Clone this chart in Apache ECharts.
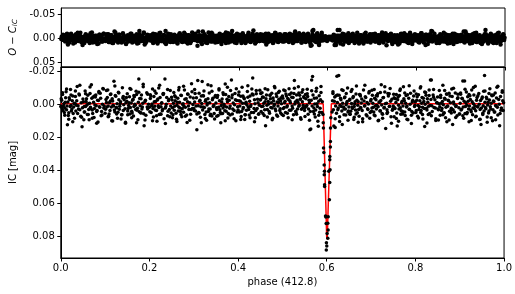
<!DOCTYPE html>
<html>
<head>
<meta charset="utf-8">
<script src="https://cdn.jsdelivr.net/npm/echarts@6/dist/echarts.min.js"></script>
<style>html,body{margin:0;padding:0;background:#fff;}#c{width:515px;height:294px;}</style>
</head>
<body>
<div id="c"></div>
<script>
// ---- observed phases, night set A (out of eclipse) ----
const phase = [
0.001,0.003,0.004,0.006,0.008,0.010,0.012,0.013,0.015,0.017,0.019,0.021,0.022,0.024,0.026,0.028,0.030,0.031,0.033,0.035,0.037,0.040,0.042,0.045,0.048,
0.051,0.053,0.055,0.056,0.058,0.060,0.062,0.064,0.066,0.068,0.069,0.071,0.073,0.075,0.077,0.079,0.081,0.083,0.084,0.086,0.088,0.090,0.093,0.095,0.098,
0.100,0.102,0.104,0.106,0.108,0.110,0.111,0.113,0.115,0.117,0.119,0.120,0.122,0.124,0.126,0.128,0.130,0.132,0.134,0.137,0.139,0.141,0.143,0.146,0.148,
0.150,0.152,0.154,0.156,0.158,0.160,0.162,0.164,0.166,0.168,0.170,0.172,0.174,0.176,0.178,0.180,0.182,0.184,0.186,0.188,0.190,0.192,0.194,0.196,0.198,
0.201,0.203,0.205,0.207,0.209,0.211,0.213,0.215,0.217,0.219,0.221,0.223,0.225,0.227,0.229,0.231,0.233,0.235,0.237,0.239,0.241,0.243,0.245,0.247,0.249,
0.251,0.253,0.255,0.257,0.259,0.261,0.263,0.265,0.267,0.269,0.271,0.273,0.275,0.277,0.279,0.281,0.283,0.285,0.287,0.289,0.291,0.293,0.295,0.297,0.299,
0.301,0.303,0.305,0.307,0.309,0.311,0.313,0.315,0.317,0.319,0.321,0.323,0.325,0.327,0.329,0.331,0.333,0.335,0.337,0.339,0.341,0.343,0.345,0.347,0.349,
0.351,0.353,0.355,0.357,0.359,0.361,0.363,0.365,0.367,0.369,0.371,0.373,0.375,0.377,0.379,0.381,0.383,0.385,0.387,0.389,0.391,0.393,0.395,0.397,0.399,
0.401,0.403,0.405,0.407,0.409,0.411,0.413,0.415,0.417,0.419,0.421,0.423,0.425,0.427,0.429,0.431,0.433,0.435,0.437,0.439,0.441,0.443,0.445,0.447,0.449,
0.451,0.452,0.454,0.456,0.457,0.459,0.461,0.462,0.464,0.466,0.467,0.469,0.471,0.473,0.474,0.476,0.478,0.480,0.481,0.483,0.485,0.487,0.489,0.491,0.493,0.495,0.497,0.499,
0.500,0.502,0.503,0.505,0.507,0.508,0.510,0.512,0.513,0.515,0.517,0.519,0.520,0.522,0.524,0.525,0.527,0.529,0.531,0.532,0.534,0.536,0.538,0.540,0.542,0.544,0.546,0.548,
0.550,0.552,0.554,0.556,0.558,0.560,0.562,0.564,0.566,0.568,0.570,0.572,0.574,0.576,0.578,0.580,0.581,0.583,0.585,0.587,0.589,0.590,
0.612,0.614,0.616,0.617,0.619,0.621,0.623,0.625,0.627,0.629,0.631,0.633,0.635,0.637,0.639,0.641,0.643,0.645,0.647,0.649,
0.651,0.653,0.655,0.657,0.659,0.661,0.663,0.665,0.667,0.669,0.671,0.673,0.675,0.677,0.679,0.681,0.683,0.685,0.687,0.689,0.691,0.693,0.695,0.697,0.699,
0.701,0.703,0.705,0.707,0.709,0.711,0.713,0.715,0.717,0.719,0.721,0.723,0.725,0.727,0.729,0.731,0.733,0.735,0.737,0.739,0.741,0.743,0.745,0.747,0.749,
0.751,0.753,0.755,0.757,0.759,0.761,0.763,0.765,0.767,0.769,0.771,0.773,0.775,0.777,0.779,0.781,0.783,0.785,0.787,0.789,0.791,0.793,0.795,0.797,0.799,
0.801,0.803,0.805,0.807,0.809,0.811,0.813,0.815,0.817,0.819,0.821,0.823,0.825,0.827,0.829,0.831,0.833,0.834,0.836,0.838,0.840,0.842,0.844,0.846,0.848,
0.850,0.852,0.854,0.856,0.858,0.860,0.862,0.864,0.866,0.868,0.870,0.872,0.874,0.876,0.878,0.880,0.882,0.884,0.886,0.888,0.890,0.892,0.894,0.896,0.898,
0.900,0.902,0.904,0.906,0.907,0.909,0.911,0.913,0.915,0.917,0.919,0.921,0.923,0.925,0.927,0.929,0.931,0.933,0.935,0.937,0.939,0.941,0.943,0.945,0.947,0.948,
0.950,0.952,0.954,0.956,0.958,0.960,0.962,0.964,0.966,0.968,0.970,0.972,0.974,0.976,0.978,0.980,0.982,0.984,0.986,0.988,0.990,0.992,0.994,0.996,0.998,0.999
];
const mag = [
-0.0035,0.0021,-0.0062,0.0008,0.0047,-0.0015,-0.0078,0.0031,0.0122,0.0066,-0.0042,0.0011,-0.0091,0.0038,-0.0024,0.0054,-0.0007,0.0082,-0.0049,0.0004,-0.0110,0.0027,-0.0058,0.0071,0.0134,
-0.0018,0.0045,-0.0083,0.0012,-0.0036,0.0059,-0.0005,0.0092,-0.0067,0.0025,-0.0121,0.0033,-0.0046,0.0078,0.0002,-0.0059,0.0041,-0.0027,0.0105,-0.0072,0.0016,-0.0039,0.0063,-0.0098,0.0009,
0.0052,-0.0031,0.0014,-0.0088,0.0071,-0.0013,0.0036,-0.0064,0.0097,-0.0022,0.0008,-0.0142,0.0044,-0.0051,0.0019,0.0083,-0.0075,0.0028,-0.0006,0.0061,-0.0102,0.0035,-0.0029,0.0112,-0.0044,
-0.0066,0.0023,-0.0011,0.0057,-0.0093,0.0040,-0.0026,0.0069,-0.0048,0.0003,-0.0081,0.0034,0.0091,-0.0156,-0.0037,0.0049,-0.0058,0.0015,-0.0109,0.0128,-0.0019,0.0064,-0.0072,0.0026,-0.0003,
0.0043,-0.0052,0.0007,-0.0095,0.0075,-0.0017,0.0032,-0.0069,0.0101,-0.0034,0.0018,-0.0118,0.0056,-0.0009,0.0037,-0.0061,0.0086,-0.0156,0.0012,-0.0044,0.0067,-0.0023,0.0029,-0.0086,0.0050,
-0.0028,0.0062,-0.0074,0.0010,-0.0047,0.0089,-0.0015,0.0039,-0.0104,0.0021,-0.0057,0.0073,-0.0001,0.0046,-0.0089,0.0016,-0.0035,0.0108,-0.0063,0.0030,-0.0012,0.0058,-0.0127,0.0024,-0.0040,
0.0035,-0.0068,0.0009,0.0152,-0.0146,0.0048,-0.0021,0.0077,-0.0053,-0.0140,0.0014,-0.0083,0.0060,-0.0030,0.0095,-0.0008,0.0042,-0.0071,0.0026,-0.0115,0.0069,-0.0038,0.0004,0.0087,-0.0055,
0.0019,-0.0044,0.0066,-0.0097,0.0031,0.0110,-0.0016,0.0053,-0.0062,0.0008,-0.0125,0.0040,-0.0033,0.0081,-0.0049,0.0022,-0.0085,-0.0150,0.0057,-0.0010,0.0036,-0.0068,0.0098,-0.0025,0.0013,
-0.0059,0.0045,-0.0020,0.0072,-0.0106,0.0027,-0.0041,0.0090,-0.0007,0.0034,-0.0079,0.0015,0.0063,-0.0052,0.0002,-0.0094,-0.0162,0.0048,-0.0030,0.0079,-0.0066,0.0023,-0.0012,0.0055,-0.0087,
-0.0031,0.0041,-0.0072,0.0010,-0.0045,0.0066,-0.0018,0.0128,-0.0058,0.0029,-0.0090,-0.0004,0.0052,-0.0036,0.0018,-0.0069,0.0083,-0.0024,0.0006,-0.0103,0.0037,-0.0050,0.0071,-0.0013,-0.0081,0.0025,-0.0041,0.0060,
-0.0052,0.0023,-0.0088,-0.0011,0.0047,-0.0064,0.0015,-0.0037,0.0079,-0.0097,-0.0022,0.0034,-0.0070,0.0008,-0.0043,0.0061,-0.0146,-0.0016,0.0050,-0.0058,0.0027,-0.0109,0.0002,-0.0033,0.0088,-0.0075,0.0019,-0.0048,
0.0036,-0.0062,0.0011,-0.0093,0.0058,-0.0027,0.0152,0.0148,-0.0150,-0.0170,0.0042,-0.0039,0.0075,-0.0081,-0.0006,0.0101,0.0131,-0.0054,0.0022,-0.0110,0.0047,-0.0018,
0.0045,-0.0068,0.0130,-0.0021,0.0138,-0.0054,-0.0172,0.0031,-0.0176,0.0074,-0.0039,0.0012,0.0120,-0.0085,0.0026,-0.0047,0.0063,-0.0010,-0.0101,0.0039,
-0.0026,0.0058,-0.0079,0.0014,-0.0042,0.0090,-0.0005,0.0033,-0.0113,0.0049,-0.0017,0.0070,-0.0061,0.0021,-0.0034,0.0104,-0.0089,0.0009,-0.0048,0.0062,-0.0013,0.0029,-0.0071,0.0082,-0.0022,
0.0040,-0.0057,0.0016,-0.0092,0.0068,-0.0029,0.0004,-0.0066,0.0095,-0.0015,0.0037,-0.0120,0.0054,-0.0041,0.0020,-0.0077,0.0144,-0.0008,0.0046,-0.0053,0.0011,-0.0098,0.0074,-0.0032,0.0025,
-0.0063,0.0019,-0.0035,0.0084,0.0130,-0.0047,0.0027,-0.0086,0.0058,-0.0011,0.0041,-0.0108,-0.0024,0.0066,-0.0055,0.0008,0.0092,-0.0038,0.0030,-0.0069,0.0115,-0.0016,0.0050,-0.0082,0.0003,
0.0048,-0.0027,0.0071,-0.0060,0.0013,-0.0101,0.0036,-0.0044,0.0087,-0.0019,0.0133,-0.0073,0.0022,-0.0036,0.0059,-0.0089,0.0005,-0.0150,-0.0150,0.0042,-0.0058,0.0017,-0.0030,0.0096,-0.0011,
-0.0046,0.0031,-0.0085,0.0064,-0.0009,0.0024,-0.0117,0.0052,-0.0038,0.0079,-0.0065,0.0010,-0.0027,0.0093,-0.0052,0.0035,-0.0094,0.0120,-0.0016,0.0045,-0.0071,0.0007,0.0068,-0.0041,0.0019,
0.0056,-0.0063,0.0028,-0.0035,-0.0143,0.0082,-0.0143,0.0012,-0.0076,0.0047,-0.0020,0.0104,-0.0054,0.0033,-0.0088,0.0061,-0.0006,0.0023,-0.0112,0.0071,-0.0043,0.0015,-0.0068,0.0090,-0.0025,0.0120,
-0.0037,0.0052,-0.0081,-0.0176,0.0018,-0.0045,0.0075,-0.0014,0.0039,-0.0096,0.0027,-0.0058,0.0098,-0.0022,0.0044,-0.0070,0.0009,-0.0105,0.0063,-0.0031,0.0128,-0.0049,0.0021,-0.0084,0.0036,-0.0012
];
const oc = [
-0.003,0.003,-0.006,0.001,0.005,-0.001,-0.007,0.004,0.013,0.007,-0.004,0.002,-0.009,0.004,-0.002,0.006,0.000,0.009,-0.004,0.001,-0.011,0.003,-0.005,0.008,0.014,
-0.001,0.005,-0.008,0.002,-0.003,0.006,0.000,0.010,-0.006,0.003,-0.012,0.004,-0.004,0.008,0.001,-0.005,0.005,-0.002,0.011,-0.007,0.002,-0.003,0.007,-0.009,0.001,
0.006,-0.003,0.002,-0.008,0.008,-0.001,0.004,-0.006,0.010,-0.002,0.001,-0.014,0.005,-0.005,0.002,0.009,-0.007,0.003,0.000,0.007,-0.010,0.004,-0.002,0.012,-0.004,
-0.006,0.003,-0.001,0.006,-0.009,0.005,-0.002,0.007,-0.004,0.001,-0.008,0.004,0.010,-0.015,-0.003,0.005,-0.005,0.002,-0.010,0.013,-0.001,0.007,-0.007,0.003,0.000,
0.005,-0.005,0.001,-0.009,0.008,-0.001,0.004,-0.006,0.011,-0.003,0.002,-0.011,0.006,0.000,0.004,-0.006,0.009,-0.015,0.002,-0.004,0.007,-0.002,0.003,-0.008,0.006,
-0.002,0.007,-0.007,0.002,-0.004,0.009,-0.001,0.004,-0.010,0.003,-0.005,0.008,0.000,0.005,-0.008,0.002,-0.003,0.011,-0.006,0.004,-0.001,0.006,-0.012,0.003,-0.004,
0.004,-0.006,0.001,0.016,-0.014,0.005,-0.002,0.008,-0.005,-0.014,0.002,-0.008,0.007,-0.003,0.010,0.000,0.005,-0.007,0.003,-0.011,0.007,-0.003,0.001,0.009,-0.005,
0.002,-0.004,0.007,-0.009,0.004,0.012,-0.001,0.006,-0.006,0.001,-0.012,0.005,-0.003,0.009,-0.004,0.003,-0.008,-0.015,0.006,-0.001,0.004,-0.006,0.010,-0.002,0.002,
-0.005,0.005,-0.002,0.008,-0.010,0.003,-0.004,0.010,0.000,0.004,-0.007,0.002,0.007,-0.005,0.001,-0.009,-0.016,0.005,-0.003,0.008,-0.006,0.003,-0.001,0.006,-0.008,
-0.003,0.005,-0.007,0.002,-0.004,0.007,-0.001,0.013,-0.005,0.003,-0.009,0.000,0.006,-0.003,0.002,-0.006,0.009,-0.002,0.001,-0.010,0.004,-0.005,0.008,-0.001,-0.008,0.003,-0.004,0.007,
-0.005,0.003,-0.008,-0.001,0.005,-0.006,0.002,-0.003,0.008,-0.009,-0.002,0.004,-0.007,0.001,-0.004,0.007,-0.014,-0.001,0.006,-0.005,0.003,-0.010,0.001,-0.003,0.009,-0.007,0.002,-0.004,
0.004,-0.006,0.002,-0.009,0.006,-0.002,0.016,0.015,-0.015,-0.017,0.005,-0.003,0.008,-0.008,0.000,0.011,0.014,-0.005,0.003,-0.011,0.005,-0.001,
0.005,-0.006,0.014,-0.002,0.014,-0.005,-0.017,0.004,-0.017,0.008,-0.003,0.002,0.013,-0.008,0.003,-0.004,0.007,-0.001,-0.010,0.004,
-0.002,0.006,-0.007,0.002,-0.004,0.010,0.000,0.004,-0.011,0.005,-0.001,0.008,-0.006,0.003,-0.003,0.011,-0.008,0.001,-0.004,0.007,-0.001,0.003,-0.007,0.009,-0.002,
0.005,-0.005,0.002,-0.009,0.007,-0.002,0.001,-0.006,0.010,-0.001,0.004,-0.012,0.006,-0.004,0.003,-0.007,0.015,0.000,0.005,-0.005,0.002,-0.009,0.008,-0.003,0.003,
-0.006,0.002,-0.003,0.009,0.013,-0.004,0.003,-0.008,0.006,-0.001,0.005,-0.010,-0.002,0.007,-0.005,0.001,0.010,-0.003,0.004,-0.006,0.012,-0.001,0.005,-0.008,0.001,
0.005,-0.002,0.008,-0.006,0.002,-0.010,0.004,-0.004,0.009,-0.001,0.014,-0.007,0.003,-0.003,0.006,-0.008,0.001,-0.015,-0.014,0.005,-0.005,0.002,-0.003,0.010,-0.001,
-0.004,0.004,-0.008,0.007,0.000,0.003,-0.011,0.006,-0.003,0.008,-0.006,0.002,-0.002,0.010,-0.005,0.004,-0.009,0.012,-0.001,0.005,-0.007,0.001,0.007,-0.004,0.002,
0.006,-0.006,0.003,-0.003,-0.014,0.009,-0.014,0.002,-0.007,0.005,-0.002,0.011,-0.005,0.004,-0.008,0.007,0.000,0.003,-0.011,0.008,-0.004,0.002,-0.006,0.010,-0.002,0.012,
-0.003,0.006,-0.008,-0.017,0.002,-0.004,0.008,-0.001,0.004,-0.009,0.003,-0.005,0.010,-0.002,0.005,-0.007,0.001,-0.010,0.007,-0.003,0.013,-0.004,0.003,-0.008,0.004,-0.001
];
// ---- observed phases, night set B (out of eclipse) ----
const phase2 = [
0.000,0.002,0.005,0.007,0.009,0.011,0.014,0.016,0.018,0.020,0.023,0.025,0.027,0.029,0.032,0.034,0.036,0.039,0.041,0.043,0.046,0.049,
0.050,0.053,0.054,0.057,0.059,0.061,0.063,0.065,0.067,0.070,0.072,0.074,0.076,0.078,0.080,0.082,0.085,0.087,0.089,0.092,0.094,0.097,
0.101,0.103,0.105,0.107,0.109,0.112,0.114,0.116,0.118,0.121,0.123,0.125,0.127,0.129,0.131,0.133,0.135,0.138,0.140,0.142,0.145,0.147,
0.149,0.151,0.153,0.155,0.157,0.159,0.161,0.163,0.165,0.167,0.169,0.171,0.173,0.175,0.177,0.179,0.181,0.183,0.185,0.187,0.191,0.195,
0.200,0.202,0.204,0.206,0.208,0.210,0.212,0.214,0.216,0.218,0.220,0.222,0.224,0.226,0.228,0.230,0.232,0.236,0.238,0.242,0.244,0.248,
0.250,0.252,0.254,0.256,0.258,0.260,0.262,0.264,0.266,0.268,0.270,0.272,0.274,0.276,0.278,0.280,0.284,0.286,0.288,0.292,0.294,0.298,
0.300,0.302,0.304,0.306,0.310,0.312,0.314,0.316,0.318,0.320,0.322,0.324,0.326,0.328,0.330,0.332,0.334,0.336,0.338,0.342,0.344,0.348,
0.350,0.352,0.354,0.356,0.358,0.360,0.362,0.364,0.366,0.368,0.370,0.372,0.374,0.376,0.378,0.380,0.382,0.386,0.388,0.392,0.394,0.398,
0.400,0.402,0.404,0.406,0.408,0.410,0.412,0.414,0.416,0.418,0.420,0.422,0.424,0.426,0.428,0.430,0.434,0.436,0.438,0.440,0.444,0.448,
0.450,0.453,0.455,0.458,0.460,0.463,0.465,0.468,0.470,0.472,0.475,0.477,0.479,0.482,0.484,0.486,0.488,0.490,0.492,0.494,0.496,0.498,
0.501,0.504,0.506,0.509,0.511,0.514,0.516,0.518,0.521,0.523,0.526,0.528,0.530,0.533,0.535,0.537,0.539,0.541,0.543,0.545,0.547,0.549,
0.551,0.553,0.555,0.557,0.559,0.561,0.563,0.565,0.567,0.569,0.571,0.573,0.575,0.577,0.579,0.582,0.584,0.586,
0.613,0.615,0.618,0.620,0.622,0.624,0.626,0.628,0.630,0.632,0.634,0.636,0.638,0.640,0.642,0.644,0.646,0.648,
0.650,0.652,0.654,0.656,0.658,0.660,0.662,0.664,0.666,0.668,0.670,0.672,0.674,0.676,0.678,0.680,0.684,0.686,0.688,0.692,0.694,0.698,
0.700,0.702,0.704,0.706,0.708,0.710,0.712,0.714,0.716,0.718,0.720,0.722,0.724,0.726,0.728,0.730,0.732,0.736,0.738,0.742,0.744,0.748,
0.750,0.752,0.754,0.756,0.758,0.760,0.762,0.764,0.766,0.768,0.770,0.772,0.774,0.776,0.778,0.780,0.782,0.786,0.788,0.792,0.794,0.798,
0.800,0.802,0.804,0.806,0.808,0.810,0.812,0.814,0.816,0.818,0.820,0.822,0.824,0.826,0.828,0.830,0.832,0.835,0.837,0.841,0.845,0.849,
0.851,0.853,0.855,0.857,0.859,0.861,0.863,0.865,0.867,0.869,0.871,0.873,0.875,0.877,0.879,0.881,0.883,0.885,0.887,0.891,0.895,0.899,
0.901,0.903,0.905,0.908,0.910,0.912,0.914,0.916,0.918,0.920,0.922,0.924,0.926,0.928,0.930,0.932,0.934,0.936,0.938,0.940,0.944,0.946,
0.949,0.951,0.953,0.955,0.957,0.959,0.961,0.963,0.965,0.967,0.969,0.971,0.973,0.975,0.977,0.979,0.981,0.983,0.985,0.989,0.993,0.997
];
const mag2 = [
0.0012,-0.0027,0.0036,-0.0005,0.0021,-0.0041,0.0008,-0.0016,0.0049,-0.0031,0.0003,0.0027,-0.0052,0.0015,-0.0009,0.0038,-0.0023,0.0006,-0.0064,0.0031,-0.0012,0.0019,
-0.0034,0.0011,0.0045,-0.0019,0.0002,-0.0057,0.0029,-0.0008,0.0016,-0.0038,0.0053,-0.0014,0.0024,-0.0046,0.0007,0.0035,-0.0025,0.0013,-0.0069,0.0041,-0.0003,0.0020,
0.0028,-0.0013,-0.0044,0.0009,0.0057,-0.0022,0.0014,-0.0035,0.0004,0.0033,-0.0055,0.0017,-0.0006,0.0046,-0.0029,0.0010,-0.0017,0.0062,-0.0040,0.0001,0.0025,-0.0011,
-0.0021,0.0039,0.0005,-0.0048,0.0018,-0.0010,0.0051,-0.0033,0.0012,-0.0003,0.0030,-0.0061,0.0022,-0.0015,0.0043,0.0007,-0.0036,0.0026,-0.0008,0.0055,-0.0026,0.0014,
0.0016,-0.0037,0.0047,-0.0004,0.0023,-0.0050,0.0010,-0.0019,0.0035,-0.0028,0.0006,0.0059,-0.0043,0.0013,-0.0012,0.0028,-0.0066,0.0020,-0.0002,0.0040,-0.0031,0.0009,
-0.0045,0.0019,-0.0008,0.0034,-0.0024,0.0052,0.0003,-0.0039,0.0015,-0.0014,0.0041,-0.0056,0.0025,-0.0005,0.0012,-0.0032,0.0063,-0.0018,0.0008,-0.0047,0.0030,-0.0001,
0.0024,-0.0016,0.0038,-0.0042,0.0007,0.0050,-0.0027,0.0013,-0.0007,0.0032,-0.0053,0.0018,-0.0021,0.0044,0.0002,-0.0035,0.0027,-0.0011,0.0058,-0.0029,0.0011,-0.0048,
-0.0010,0.0030,-0.0055,0.0016,-0.0023,0.0048,0.0005,-0.0034,0.0021,-0.0003,0.0037,-0.0062,0.0014,-0.0017,0.0054,-0.0026,0.0009,-0.0041,0.0026,0.0001,-0.0030,0.0045,
0.0033,-0.0024,0.0008,-0.0051,0.0042,-0.0009,0.0017,-0.0036,0.0061,-0.0014,0.0002,-0.0045,0.0029,-0.0020,0.0011,0.0048,-0.0058,0.0023,-0.0006,0.0035,-0.0032,0.0004,
-0.0028,0.0012,-0.0047,-0.0009,0.0031,-0.0036,0.0003,-0.0019,0.0042,-0.0055,-0.0012,0.0020,-0.0040,-0.0003,0.0026,-0.0064,-0.0016,0.0009,-0.0033,0.0036,-0.0024,-0.0006,
-0.0039,0.0017,-0.0021,-0.0052,0.0006,-0.0030,0.0034,-0.0011,-0.0045,0.0022,-0.0068,-0.0004,0.0040,-0.0027,-0.0014,0.0010,-0.0057,-0.0034,0.0028,-0.0018,0.0003,-0.0042,
0.0018,-0.0035,0.0004,-0.0049,0.0027,-0.0012,0.0041,-0.0026,0.0008,-0.0058,0.0021,-0.0004,0.0033,-0.0040,0.0012,-0.0021,0.0046,-0.0030,
-0.0024,0.0031,-0.0046,0.0009,0.0052,-0.0013,0.0020,-0.0057,0.0004,-0.0030,0.0038,-0.0008,0.0015,-0.0041,0.0026,0.0001,-0.0019,0.0044,
0.0015,-0.0032,0.0040,-0.0007,0.0023,-0.0049,0.0011,-0.0018,0.0056,-0.0027,0.0003,0.0030,-0.0061,0.0017,-0.0010,0.0036,-0.0022,0.0007,-0.0043,0.0025,-0.0004,0.0048,
-0.0031,0.0020,-0.0009,0.0044,-0.0038,0.0006,0.0027,-0.0053,0.0013,-0.0016,0.0039,-0.0025,0.0002,0.0058,-0.0044,0.0018,-0.0006,0.0031,-0.0067,0.0010,-0.0020,0.0034,
0.0009,-0.0042,0.0024,-0.0013,0.0050,-0.0030,0.0004,-0.0055,0.0019,0.0037,-0.0021,0.0008,-0.0035,0.0045,-0.0009,0.0014,-0.0060,0.0028,-0.0003,0.0041,-0.0026,0.0012,
-0.0017,0.0036,-0.0048,0.0005,0.0029,-0.0023,0.0047,-0.0008,0.0016,-0.0039,0.0024,-0.0002,-0.0057,0.0033,-0.0014,0.0010,0.0053,-0.0031,0.0006,-0.0045,0.0021,-0.0011,
0.0027,-0.0006,0.0013,-0.0044,0.0035,-0.0019,0.0001,0.0049,-0.0033,0.0016,-0.0063,0.0008,-0.0024,0.0040,-0.0011,0.0022,-0.0050,0.0031,-0.0004,0.0012,-0.0037,0.0057,
-0.0008,0.0032,-0.0039,0.0015,-0.0021,0.0054,-0.0012,0.0003,-0.0048,0.0026,0.0009,-0.0031,0.0043,-0.0017,0.0021,-0.0059,0.0006,0.0037,-0.0026,0.0011,-0.0003,0.0029,
0.0020,-0.0047,0.0007,0.0039,-0.0015,0.0025,-0.0036,0.0002,0.0051,-0.0028,0.0013,-0.0009,-0.0054,0.0031,-0.0019,0.0044,0.0005,-0.0040,0.0016,-0.0002,0.0034,-0.0023
];
const oc2 = [
0.002,-0.002,0.004,0.000,0.003,-0.004,0.001,-0.001,0.005,-0.003,0.001,0.003,-0.005,0.002,-0.001,0.004,-0.002,0.001,-0.006,0.004,-0.001,0.002,
-0.003,0.002,0.005,-0.001,0.001,-0.005,0.003,0.000,0.002,-0.003,0.006,-0.001,0.003,-0.004,0.001,0.004,-0.002,0.002,-0.006,0.005,0.000,0.003,
0.003,-0.001,-0.004,0.001,0.006,-0.002,0.002,-0.003,0.001,0.004,-0.005,0.002,0.000,0.005,-0.002,0.002,-0.001,0.007,-0.004,0.002,0.003,-0.001,
-0.002,0.004,0.001,-0.004,0.002,-0.001,0.006,-0.003,0.002,0.000,0.004,-0.006,0.003,-0.001,0.005,0.001,-0.003,0.003,0.000,0.006,-0.002,0.002,
0.002,-0.003,0.005,0.000,0.003,-0.005,0.002,-0.001,0.004,-0.002,0.001,0.006,-0.004,0.002,-0.001,0.003,-0.006,0.003,0.000,0.005,-0.003,0.001,
-0.004,0.002,0.000,0.004,-0.002,0.006,0.001,-0.003,0.002,-0.001,0.005,-0.005,0.003,0.000,0.002,-0.003,0.007,-0.001,0.001,-0.004,0.004,0.000,
0.003,-0.001,0.004,-0.004,0.001,0.006,-0.002,0.002,0.000,0.004,-0.005,0.002,-0.002,0.005,0.001,-0.003,0.003,-0.001,0.006,-0.002,0.002,-0.004,
-0.001,0.004,-0.005,0.002,-0.002,0.005,0.001,-0.003,0.003,0.000,0.004,-0.006,0.002,-0.001,0.006,-0.002,0.001,-0.004,0.003,0.001,-0.003,0.005,
0.004,-0.002,0.001,-0.005,0.005,0.000,0.002,-0.003,0.007,-0.001,0.001,-0.004,0.003,-0.002,0.002,0.005,-0.005,0.003,0.000,0.004,-0.003,0.001,
-0.002,0.002,-0.004,0.000,0.004,-0.003,0.001,-0.001,0.005,-0.005,-0.001,0.003,-0.004,0.000,0.003,-0.006,-0.001,0.001,-0.003,0.004,-0.002,0.000,
-0.003,0.002,-0.002,-0.005,0.001,-0.003,0.004,-0.001,-0.004,0.003,-0.006,0.000,0.005,-0.002,-0.001,0.002,-0.005,-0.003,0.003,-0.001,0.001,-0.004,
0.002,-0.003,0.001,-0.004,0.003,-0.001,0.005,-0.002,0.001,-0.005,0.003,0.000,0.004,-0.004,0.002,-0.002,0.005,-0.003,
-0.002,0.004,-0.004,0.001,0.006,-0.001,0.003,-0.005,0.001,-0.003,0.004,0.000,0.002,-0.004,0.003,0.001,-0.001,0.005,
0.002,-0.003,0.005,0.000,0.003,-0.004,0.002,-0.001,0.006,-0.002,0.001,0.004,-0.006,0.002,-0.001,0.004,-0.002,0.001,-0.004,0.003,0.000,0.005,
-0.003,0.003,-0.001,0.005,-0.003,0.001,0.003,-0.005,0.002,-0.001,0.004,-0.002,0.001,0.006,-0.004,0.002,0.000,0.004,-0.006,0.002,-0.002,0.004,
0.001,-0.004,0.003,-0.001,0.006,-0.003,0.001,-0.005,0.002,0.004,-0.002,0.001,-0.003,0.005,-0.001,0.002,-0.006,0.003,0.000,0.005,-0.002,0.002,
-0.001,0.004,-0.004,0.001,0.003,-0.002,0.005,0.000,0.002,-0.003,0.003,0.000,-0.005,0.004,-0.001,0.002,0.006,-0.003,0.001,-0.004,0.003,-0.001,
0.003,0.000,0.002,-0.004,0.004,-0.001,0.001,0.005,-0.003,0.002,-0.006,0.001,-0.002,0.005,-0.001,0.003,-0.005,0.004,0.000,0.002,-0.003,0.006,
0.000,0.004,-0.003,0.002,-0.002,0.006,-0.001,0.001,-0.004,0.003,0.001,-0.003,0.005,-0.001,0.003,-0.005,0.001,0.004,-0.002,0.002,0.000,0.003,
0.003,-0.004,0.001,0.004,-0.001,0.003,-0.003,0.001,0.006,-0.002,0.002,0.000,-0.005,0.004,-0.001,0.005,0.001,-0.004,0.002,0.000,0.004,-0.002
];
// ---- observed phases, night set C (out of eclipse) ----
const phase3 = [
0.004,0.009,0.013,0.018,0.023,0.027,0.033,0.038,0.043,0.047,
0.052,0.056,0.062,0.066,0.071,0.076,0.081,0.086,0.091,0.096,
0.103,0.107,0.112,0.117,0.122,0.126,0.131,0.136,0.141,0.146,
0.151,0.156,0.160,0.165,0.171,0.176,0.181,0.186,0.190,0.196,
0.202,0.207,0.212,0.216,0.221,0.226,0.231,0.236,0.241,0.246,
0.252,0.257,0.262,0.266,0.271,0.277,0.281,0.286,0.291,0.296,
0.302,0.307,0.312,0.317,0.321,0.326,0.332,0.337,0.341,0.346,
0.352,0.357,0.361,0.366,0.371,0.376,0.382,0.387,0.391,0.396,
0.402,0.406,0.411,0.416,0.422,0.427,0.432,0.437,0.441,0.446,
0.451,0.456,0.461,0.466,0.472,0.477,0.482,0.487,0.491,0.496,
0.502,0.506,0.511,0.516,0.522,0.527,0.532,0.537,0.541,0.546,
0.551,0.556,0.561,0.566,0.572,0.577,0.582,0.587,
0.614,0.619,0.624,0.629,0.634,0.639,0.644,0.648,
0.652,0.657,0.662,0.666,0.671,0.676,0.681,0.686,0.691,0.696,
0.702,0.707,0.712,0.716,0.721,0.726,0.731,0.736,0.741,0.746,
0.752,0.757,0.762,0.766,0.771,0.776,0.781,0.786,0.791,0.796,
0.802,0.807,0.812,0.816,0.821,0.826,0.831,0.836,0.841,0.846,
0.852,0.857,0.862,0.866,0.871,0.876,0.881,0.886,0.891,0.896,
0.902,0.907,0.912,0.916,0.921,0.926,0.931,0.936,0.941,0.946,
0.952,0.957,0.962,0.966,0.971,0.976,0.981,0.986,0.991,0.996
];
const mag3 = [
-0.0072,0.0065,-0.0095,0.0088,-0.0058,0.0104,-0.0083,0.0054,-0.0118,0.0077,
0.0091,-0.0066,0.0059,-0.0107,0.0083,-0.0052,0.0112,-0.0079,0.0068,-0.0094,
-0.0085,0.0073,-0.0061,0.0099,-0.0113,0.0056,-0.0070,0.0087,-0.0050,0.0106,
0.0062,-0.0098,0.0080,-0.0056,0.0109,-0.0075,0.0051,-0.0124,0.0093,-0.0063,
-0.0060,0.0097,-0.0082,0.0068,-0.0101,0.0058,-0.0067,0.0115,-0.0091,0.0074,
0.0079,-0.0054,0.0102,-0.0088,0.0060,-0.0112,0.0071,-0.0065,0.0094,-0.0078,
-0.0092,0.0057,-0.0069,0.0110,-0.0055,0.0084,-0.0120,0.0066,-0.0081,0.0053,
0.0070,-0.0089,0.0055,-0.0072,0.0098,-0.0106,0.0063,-0.0058,0.0085,-0.0097,
-0.0077,0.0090,-0.0053,0.0061,-0.0115,0.0079,-0.0064,0.0103,-0.0086,0.0058,
-0.0068,0.0054,-0.0096,0.0075,-0.0059,0.0092,-0.0110,0.0063,-0.0074,0.0050,
0.0066,-0.0084,0.0052,-0.0062,0.0091,-0.0100,0.0058,-0.0071,0.0080,-0.0090,
0.0072,-0.0066,0.0095,-0.0084,0.0057,-0.0100,0.0064,-0.0073,
-0.0078,0.0086,-0.0059,0.0102,-0.0090,0.0061,-0.0068,0.0094,
0.0058,-0.0091,0.0076,-0.0064,0.0107,-0.0053,0.0085,-0.0118,0.0069,-0.0080,
-0.0087,0.0063,-0.0056,0.0098,-0.0073,0.0082,-0.0109,0.0054,-0.0066,0.0113,
0.0074,-0.0061,0.0100,-0.0095,0.0057,-0.0070,0.0088,-0.0114,0.0065,-0.0052,
-0.0064,0.0081,-0.0108,0.0059,-0.0076,0.0111,-0.0055,0.0067,-0.0092,0.0086,
0.0093,-0.0057,0.0062,-0.0085,0.0104,-0.0069,0.0051,-0.0099,0.0078,-0.0063,
-0.0071,0.0068,-0.0093,0.0055,-0.0062,0.0096,-0.0104,0.0073,-0.0054,0.0089,
0.0060,-0.0082,0.0107,-0.0067,0.0079,-0.0058,0.0092,-0.0111,0.0053,-0.0075
];
const oc3 = [
-0.007,0.007,-0.009,0.009,-0.005,0.011,-0.008,0.006,-0.011,0.008,
0.010,-0.006,0.006,-0.010,0.009,-0.005,0.012,-0.007,0.007,-0.009,
-0.008,0.008,-0.006,0.010,-0.011,0.006,-0.007,0.009,-0.005,0.011,
0.007,-0.009,0.009,-0.005,0.011,-0.007,0.006,-0.012,0.010,-0.006,
-0.006,0.010,-0.008,0.007,-0.010,0.006,-0.006,0.012,-0.009,0.008,
0.008,-0.005,0.011,-0.008,0.007,-0.011,0.008,-0.006,0.010,-0.007,
-0.009,0.006,-0.006,0.012,-0.005,0.009,-0.012,0.007,-0.008,0.006,
0.008,-0.008,0.006,-0.007,0.010,-0.010,0.007,-0.005,0.009,-0.009,
-0.007,0.010,-0.005,0.007,-0.011,0.008,-0.006,0.011,-0.008,0.006,
-0.006,0.006,-0.009,0.008,-0.005,0.010,-0.011,0.007,-0.007,0.006,
0.007,-0.008,0.006,-0.006,0.010,-0.010,0.006,-0.007,0.009,-0.009,
0.008,-0.006,0.010,-0.008,0.006,-0.010,0.007,-0.007,
-0.007,0.009,-0.005,0.011,-0.009,0.007,-0.006,0.010,
0.006,-0.009,0.008,-0.006,0.011,-0.005,0.009,-0.011,0.007,-0.008,
-0.008,0.007,-0.005,0.010,-0.007,0.009,-0.010,0.006,-0.006,0.012,
0.008,-0.006,0.011,-0.009,0.006,-0.007,0.009,-0.011,0.007,-0.005,
-0.006,0.009,-0.010,0.006,-0.007,0.012,-0.005,0.007,-0.009,0.009,
0.010,-0.005,0.007,-0.008,0.011,-0.006,0.006,-0.009,0.008,-0.006,
-0.007,0.007,-0.009,0.006,-0.006,0.010,-0.010,0.008,-0.005,0.009,
0.007,-0.008,0.011,-0.006,0.008,-0.005,0.010,-0.011,0.006,-0.007
];
// ---- points inside the eclipse: phase, IC mag, O-C ----
const eclPhase = [0.5916,0.5921,0.5925,0.5927,0.5935,0.5942,0.5949,0.5944,0.5951,0.5952,0.5972,0.5980,0.5987,0.5993,0.6001,0.5990,0.6009,0.6024,0.6031,0.6024,0.6033,0.6060,0.6068,0.6046,0.6075,0.6068,0.6070,0.6082,0.6083,0.6085,0.6092];
const eclMag   = [0.0060,0.0110,0.0142,0.0263,0.0290,0.0365,0.0404,0.0425,0.0485,0.0496,0.0674,0.0680,0.0720,0.0836,0.0857,0.0881,0.0780,0.0810,0.0760,0.0719,0.0679,0.0576,0.0472,0.0404,0.0395,0.0334,0.0314,0.0257,0.0223,0.0142,0.0080];
const eclOc    = [0.003,-0.002,0.004,-0.001,0.002,-0.003,0.001,0.000,-0.004,0.002,0.003,-0.001,0.001,0.004,0.002,0.006,-0.002,0.001,-0.003,0.002,0.000,-0.001,0.003,-0.002,0.002,0.001,-0.003,0.002,0.000,-0.002,0.001];
// ---- model light curve ----
const modelPhase = [0, 0.5920, 0.5998, 0.6005, 0.6013, 0.6104, 1];
const modelMag   = [-0.0005, -0.0005, 0.0795, 0.0815, 0.0795, -0.0005, -0.0005];
// ---- tick labels ----
const xTicks = [0, 0.2, 0.4, 0.6, 0.8, 1.0];
const ocTicks = [-0.05, 0, 0.05];
const icTicks = [-0.02, 0, 0.02, 0.04, 0.06, 0.08];

const FONT = 'DejaVu Sans';
const zip = (a, b) => { const n = Math.min(a.length, b.length), r = []; for (let i = 0; i < n; i++) r.push([a[i], b[i]]); return r; };
const lcData = zip(phase, mag).concat(zip(phase2, mag2), zip(phase3, mag3), zip(eclPhase, eclMag));
const ocData = zip(phase, oc).concat(zip(phase2, oc2), zip(phase3, oc3), zip(eclPhase, eclOc));
const modelData = zip(modelPhase, modelMag);

const axisCommon = {
  type: 'value',
  axisLine: { show: true, onZero: false, lineStyle: { color: '#000', width: 1 } },
  splitLine: { show: false }
};
const tickStyle = vals => ({ show: true, length: 3.5, customValues: vals, lineStyle: { color: '#000', width: 1 } });
const labelStyle = (vals, fmt, margin) => ({ color: '#000', fontSize: 10, fontFamily: FONT, margin: margin, customValues: vals, formatter: fmt });

const chart = echarts.init(document.getElementById('c'));
chart.setOption({
  animation: false,
  backgroundColor: '#fff',
  grid: [
    { left: 54, top: 8, width: 451, height: 59, show: true, borderColor: '#000', borderWidth: 1 },
    { left: 54, top: 67, width: 451, height: 191, show: true, borderColor: '#000', borderWidth: 1 }
  ],
  xAxis: [
    Object.assign({}, axisCommon, {
      gridIndex: 0, min: 0, max: 1,
      axisTick: tickStyle(xTicks),
      axisLabel: { show: false, customValues: xTicks }
    }),
    Object.assign({}, axisCommon, {
      gridIndex: 1, min: 0, max: 1,
      axisTick: tickStyle(xTicks),
      axisLabel: labelStyle(xTicks, v => v.toFixed(1), 5),
      name: 'phase (412.8)', nameLocation: 'middle', nameGap: 19,
      nameTextStyle: { color: '#000', fontSize: 10, fontFamily: FONT }
    })
  ],
  yAxis: [
    Object.assign({}, axisCommon, {
      gridIndex: 0, inverse: true, min: -0.0627, max: 0.0600,
      axisTick: tickStyle(ocTicks),
      axisLabel: labelStyle(ocTicks, v => v.toFixed(2), 6),
      name: '{i|O} − {i|C}{s|IC}', nameLocation: 'middle', nameRotate: 90, nameGap: 35,
      nameTextStyle: {
        color: '#000', fontSize: 10, fontFamily: FONT,
        rich: {
          i: { fontStyle: 'italic', fontSize: 10, fontFamily: FONT, color: '#000' },
          s: { fontStyle: 'italic', fontSize: 7, fontFamily: FONT, color: '#000', verticalAlign: 'bottom', padding: [4, 0, 0, 0] }
        }
      }
    }),
    Object.assign({}, axisCommon, {
      gridIndex: 1, inverse: true, min: -0.0228, max: 0.0929,
      axisTick: tickStyle(icTicks),
      axisLabel: labelStyle(icTicks, v => v.toFixed(2), 6),
      name: 'IC [mag]', nameLocation: 'middle', nameRotate: 90, nameGap: 37,
      nameTextStyle: { color: '#000', fontSize: 10, fontFamily: FONT }
    })
  ],
  series: [
    { type: 'line', xAxisIndex: 1, yAxisIndex: 1, data: modelData, showSymbol: false, symbol: 'none',
      lineStyle: { color: '#ff0000', width: 1.5 }, z: 1, silent: true },
    { type: 'scatter', xAxisIndex: 1, yAxisIndex: 1, data: lcData, symbolSize: 3.5,
      itemStyle: { color: '#000', opacity: 1 }, z: 2, silent: true },
    { type: 'scatter', xAxisIndex: 0, yAxisIndex: 0, data: ocData, symbolSize: 4.5,
      itemStyle: { color: '#000', opacity: 1 }, z: 2, silent: true }
  ]
});
</script>
</body>
</html>
